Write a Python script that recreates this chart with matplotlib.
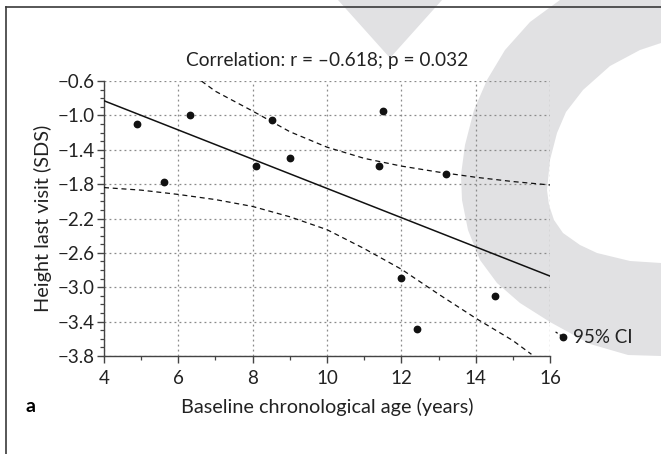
import matplotlib
matplotlib.use("Agg")
import matplotlib.pyplot as plt
from matplotlib.patches import Polygon
from matplotlib.lines import Line2D

plt.rcParams['font.family'] = ['Lato', 'DejaVu Sans']

# data
age = [4.90, 5.61, 6.32, 8.09, 8.52, 9.01, 11.39, 11.50, 13.21, 11.99, 12.41, 14.51]
height_sds = [-1.10, -1.77, -0.99, -1.59, -1.05, -1.50, -1.59, -0.95, -1.68, -2.89, -3.48, -3.10]

fit_x = [4, 16]
fit_y = [-0.83, -2.87]

ci_up_x = [6.62, 7, 8, 9, 10, 11, 12, 13, 14, 15, 16]
ci_up_y = [-0.60, -0.72, -0.95, -1.19, -1.37, -1.50, -1.59, -1.66, -1.72, -1.77, -1.81]
ci_lo_x = [4, 5, 6, 7, 8, 9, 10, 11, 12, 13, 14, 15, 15.5]
ci_lo_y = [-1.84, -1.87, -1.92, -1.98, -2.06, -2.18, -2.33, -2.55, -2.79, -3.08, -3.36, -3.62, -3.78]

x_ticks = [4, 6, 8, 10, 12, 14, 16]
y_ticks = [-0.6, -1.0, -1.4, -1.8, -2.2, -2.6, -3.0, -3.4, -3.8]

W, H = 661, 454
fig = plt.figure(figsize=(W / 100, H / 100), dpi=100)

def px(pts):
    # pixel coords (y down) -> figure fraction
    return [(x / W, 1 - y / H) for x, y in pts]

# watermark in the background
wm = '#e1e1e3'
vee = [(338, 0), (442, 0), (390, 58)]
ring = [(560, 0), (661, 0), (661, 43), (640, 50), (610, 66), (583, 90), (566, 112),
        (557, 133), (550, 160), (547, 190), (549, 205), (554, 220), (563, 233),
        (580, 245), (597, 253), (630, 261), (661, 263), (661, 356), (628, 355),
        (590, 344), (550, 322), (520, 303), (497, 283), (480, 260), (468, 230),
        (462, 200), (461, 175), (465, 145), (474, 110), (487, 80), (505, 50),
        (530, 22)]
for shape in (vee, ring):
    fig.patches.append(Polygon(px(shape), closed=True, transform=fig.transFigure,
                               facecolor=wm, edgecolor='none', zorder=-5))

# frame lines top and left
fig.add_artist(Line2D([6 / W, 1], [1 - 7 / H, 1 - 7 / H], transform=fig.transFigure,
                      color='#3a3a3a', lw=1.2))
fig.add_artist(Line2D([6 / W, 6 / W], [1 - 7 / H, 0], transform=fig.transFigure,
                      color='#3a3a3a', lw=1.2))

ax = fig.add_axes([104 / W, 1 - 356 / H, 446 / W, 275 / H])
ax.patch.set_alpha(0)

ax.plot(fit_x, fit_y, color='#111111', lw=1.1, zorder=3)
ax.plot(ci_up_x, ci_up_y, color='#111111', lw=0.9, ls=(0, (4, 3)), zorder=3)
ax.plot(ci_lo_x, ci_lo_y, color='#111111', lw=0.9, ls=(0, (4, 3)), zorder=3)
ax.plot(age, height_sds, 'o', color='#111111', ms=4.6, zorder=4)

# 95% CI marker outside the axes
ax.plot([16.15, 16.36], [-3.52, -3.58], color='#111111', lw=0.9, ls=(0, (2, 2)), clip_on=False)
ax.plot([16.36], [-3.58], 'o', color='#111111', ms=4.6, clip_on=False)
ax.text(16.62, -3.58, '95% CI', fontsize=13.5, va='center', ha='left', color='#222222')

ax.set_xlim(4, 16)
ax.set_ylim(-3.8, -0.6)
ax.set_xticks(x_ticks)
ax.set_yticks(y_ticks)
ax.set_yticklabels(['\u2212%.1f' % abs(v) for v in y_ticks])
ax.set_xticks(range(5, 16, 2), minor=True)
ax.set_yticks([-0.6 - 0.1 * i for i in range(33)], minor=True)

ax.grid(True, which='major', color='#8a8a8a', ls=(0, (1.5, 2.5)), lw=0.9)
for side in ('top', 'right'):
    ax.spines[side].set_visible(False)
for side in ('left', 'bottom'):
    ax.spines[side].set_color('#444444')
    ax.spines[side].set_linewidth(1.0)

ax.tick_params(which='major', direction='out', length=5, width=1.0, color='#444444',
               labelsize=13.5, labelcolor='#222222')
ax.tick_params(which='minor', direction='out', length=3, width=0.9, color='#444444')
ax.tick_params(axis='x', which='major', pad=5)
ax.tick_params(axis='y', which='major', pad=2)

ax.set_title('Correlation: r = \u20130.618; p = 0.032', fontsize=13.8, color='#222222', pad=11)
ax.set_xlabel('Baseline chronological age (years)', fontsize=14.3, color='#222222', labelpad=8)
ax.set_ylabel('Height last visit (SDS)', fontsize=14.3, color='#222222', labelpad=4)
fig.text(30 / W, 1 - 407 / H, 'a', fontsize=14, fontweight='bold', ha='center', va='center')

fig.savefig('out.png', dpi=100)
